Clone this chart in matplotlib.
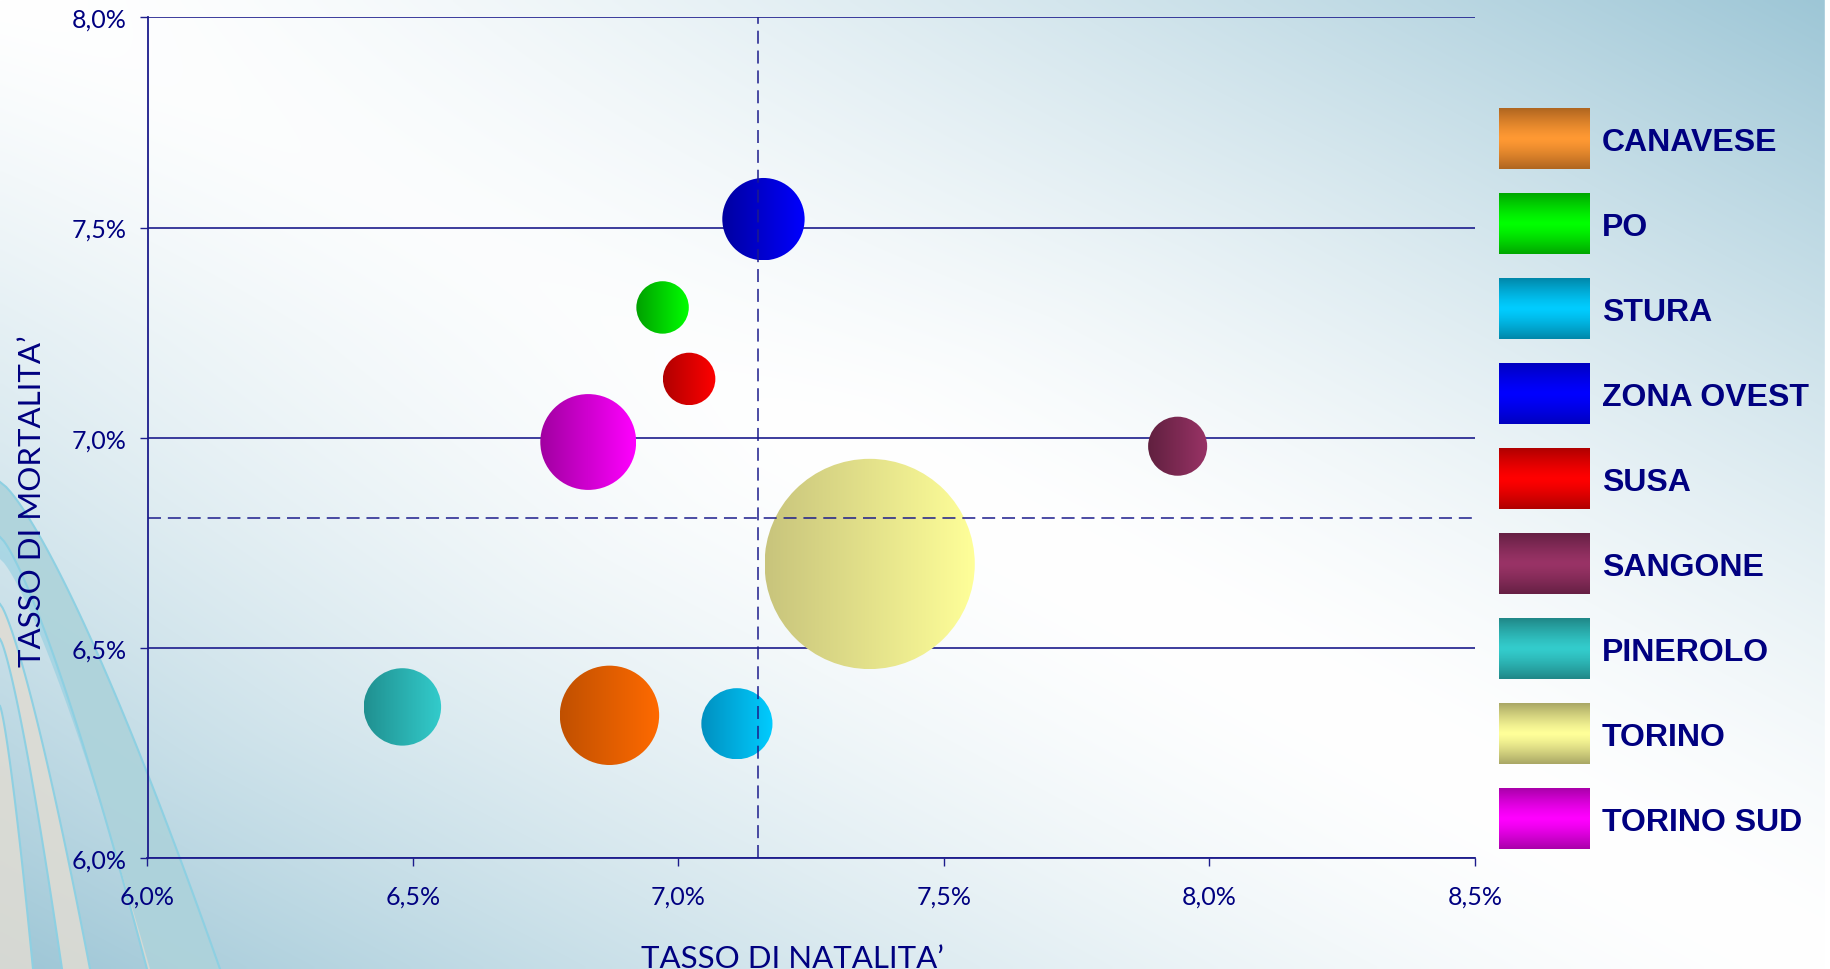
import numpy as np
import matplotlib
matplotlib.use("Agg")
import matplotlib.pyplot as plt
from matplotlib import font_manager
from matplotlib.colors import LinearSegmentedColormap
from matplotlib.patches import Ellipse, Polygon
from matplotlib.ticker import FuncFormatter

# dati: tasso di natalita' / mortalita' (%) per zona, dimensione bolla
zone = ["CANAVESE", "PO", "STURA", "ZONA OVEST", "SUSA",
        "SANGONE", "PINEROLO", "TORINO", "TORINO SUD"]
natalita = [6.87, 6.97, 7.11, 7.16, 7.02, 7.94, 6.48, 7.36, 6.83]
mortalita = [6.34, 7.31, 6.32, 7.52, 7.14, 6.98, 6.36, 6.70, 6.99]
dimensione = [201, 56, 103, 138, 56, 71, 122, 900, 187]
media_natalita = 7.15
media_mortalita = 6.81

x_ticks = [6.0, 6.5, 7.0, 7.5, 8.0, 8.5]
y_ticks = [6.0, 6.5, 7.0, 7.5, 8.0]

# colori bolle (scuro a sinistra -> chiaro a destra)
col_scuro = ["#C05000", "#00A000", "#0090C0", "#0000A0", "#B00000",
             "#60203F", "#209090", "#C8C47C", "#A000A0"]
col_chiaro = ["#FF6A00", "#00FF00", "#00CCFF", "#0000FF", "#FF0000",
              "#993366", "#33CCCC", "#FFFF99", "#FF00FF"]
# colori legenda (centro chiaro, bordi scuri)
leg_chiaro = ["#FF9933", "#00FF00", "#00CCFF", "#0000FF", "#FF0000",
              "#993366", "#33CCCC", "#FFFF99", "#FF00FF"]
leg_scuro = ["#B06620", "#00A800", "#0088AA", "#0000C0", "#B00000",
             "#662044", "#208888", "#AAA866", "#AA00AA"]

NAVY = "#000080"
LINE = "#1C1C8C"

names = {f.name for f in font_manager.fontManager.ttflist}
lab_font = "Lato" if "Lato" in names else "DejaVu Sans"
leg_font = "Liberation Sans" if "Liberation Sans" in names else "DejaVu Sans"

W, H = 1830, 970
fig = plt.figure(figsize=(W / 100, H / 100), dpi=100)

# sfondo sfumato
bg = fig.add_axes([0, 0, 1, 1], zorder=-10)
u = np.linspace(0, 1, W // 5)[None, :]
v = np.linspace(0, 1, H // 5)[:, None]
f = np.abs(u - v) ** 1.5 + 0.12 * np.clip(1 - (u + v) / 0.9, 0, 1) * np.clip(v / 0.35, 0, 1)
f = np.clip(f, 0, 1)
blu = np.array([157, 198, 214]) / 255
img = 1 - f[..., None] * (1 - blu)
bg.imshow(img, extent=(0, W, H, 0), aspect="auto", interpolation="bilinear")


def bordo(y0, xe, p=0.78):
    y = np.linspace(y0, H, 100)
    return xe * ((y - y0) / (H - y0)) ** p, y


# decorazione curva in basso a sinistra
curve = [(483, 220), (538, 147), (605, 90), (640, 62), (707, 33)]
bande = [(0, 1, "#E0DCD3", 0.8), (2, 3, "#E0DCD3", 0.85), (4, None, "#E0DCD3", 0.85)]
for a, b, c, al in bande:
    xa, ya = bordo(*curve[a])
    if b is None:
        xb, yb = np.zeros(2), np.array([H, curve[a][0]])
    else:
        xb, yb = bordo(*curve[b])
        xb, yb = xb[::-1], yb[::-1]
    bg.add_patch(Polygon(np.column_stack([np.r_[xa, xb], np.r_[ya, yb]]),
                         closed=True, fc=c, ec="none", alpha=al))
xa, ya = bordo(*curve[0])
xb, yb = bordo(560, 150)
bg.add_patch(Polygon(np.column_stack([np.r_[xa, xb[::-1]], np.r_[ya, yb[::-1]]]),
                     closed=True, fc="#8CCDE0", ec="none", alpha=0.55))
for c in curve:
    xc, yc = bordo(*c)
    bg.plot(xc, yc, color="#8ED0E2", lw=1.5)
bg.axvspan(1825, W, color="white")
bg.set_xlim(0, W)
bg.set_ylim(H, 0)
bg.axis("off")

# grafico a bolle
ax = fig.add_axes([147.5 / W, 1 - 859.3 / H, (1475 - 147.5) / W, (859.3 - 18.3) / H])
ax.patch.set_visible(False)
ax.set_xlim(6.0, 8.5)
ax.set_ylim(6.0, 8.0)

p0 = ax.transData.transform((6.0, 6.0))
p1 = ax.transData.transform((7.0, 7.0))
ppx, ppy = p1 - p0
r_max = 0.125 * min(ax.bbox.width, ax.bbox.height)

ordine = np.argsort(dimensione)[::-1]
for i in ordine:
    x, y = natalita[i], mortalita[i]
    r = r_max * np.sqrt(dimensione[i] / max(dimensione))
    rx, ry = r / ppx, r / ppy
    ell = Ellipse((x, y), 2 * rx, 2 * ry, fc="none", ec="none")
    ax.add_patch(ell)
    cmap = LinearSegmentedColormap.from_list(zone[i], [col_scuro[i], col_chiaro[i]])
    im = ax.imshow(np.linspace(0, 1, 256)[None, :], cmap=cmap,
                   extent=(x - rx, x + rx, y - ry, y + ry),
                   aspect="auto", interpolation="bilinear", zorder=3)
    im.set_clip_path(ell)

ax.axvline(media_natalita, color=LINE, lw=1.1, ls=(0, (8.5, 4.5)), zorder=4)
ax.axhline(media_mortalita, color=LINE, lw=1.1, ls=(0, (8.5, 4.5)), zorder=4)

ax.set_xlim(6.0, 8.5)
ax.set_ylim(6.0, 8.0)
ax.set_aspect("auto")
ax.set_xticks(x_ticks)
ax.set_yticks(y_ticks)
fmt = FuncFormatter(lambda val, _: f"{val:.1f}%".replace(".", ","))
ax.xaxis.set_major_formatter(fmt)
ax.yaxis.set_major_formatter(fmt)
ax.yaxis.grid(True, color=LINE, lw=1.2)
for s in ["top", "right"]:
    ax.spines[s].set_visible(False)
for s in ["left", "bottom"]:
    ax.spines[s].set_color(LINE)
    ax.spines[s].set_linewidth(1.3)
ax.tick_params(axis="both", direction="out", length=5.8, width=1, color=LINE,
               labelcolor=NAVY, labelsize=18)
ax.tick_params(axis="x", pad=13)
ax.tick_params(axis="y", pad=9)
for lab in ax.get_xticklabels() + ax.get_yticklabels():
    lab.set_family(lab_font)

fig.text(792 / W, 2 / H, "TASSO DI NATALITA\u2019", ha="center", va="baseline",
         fontsize=22.5, family=lab_font, color=NAVY)
fig.text(32.5 / W, 1 - 501.5 / H, "TASSO DI MORTALITA\u2019", ha="center", va="center",
         rotation=90, fontsize=22.5, family=lab_font, color=NAVY)

# legenda
lg = fig.add_axes([0, 0, 1, 1], zorder=5)
centri = np.linspace(139.8, 819.8, len(zone))
grad = np.abs(np.linspace(-1, 1, 64))[:, None] ** 1.3
for i, nome in enumerate(zone):
    c = centri[i]
    cmap = LinearSegmentedColormap.from_list(nome, [leg_chiaro[i], leg_scuro[i]])
    lg.imshow(grad, cmap=cmap, vmin=0, vmax=1, extent=(1499, 1590, c + 30.5, c - 30.5),
              aspect="auto", interpolation="bilinear")
    lg.text(1602, c + 11.5, nome, ha="left", va="baseline", fontsize=23,
            fontweight="bold", family=leg_font, color=NAVY)
lg.set_xlim(0, W)
lg.set_ylim(H, 0)
lg.axis("off")

fig.savefig("out.png", dpi=100)
